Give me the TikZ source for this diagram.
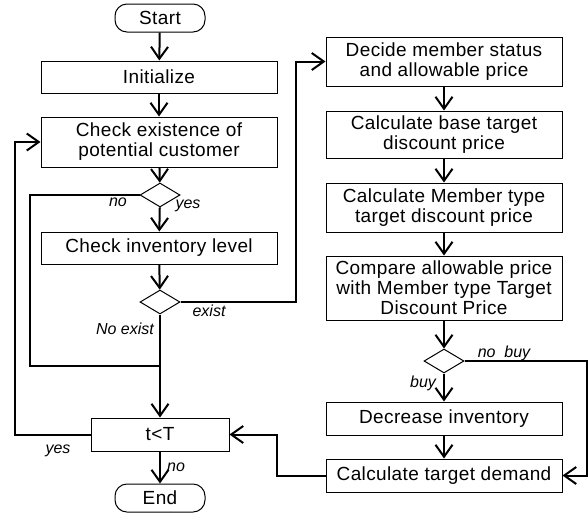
\documentclass[tikz,border=0pt]{standalone}
\usepackage{fontspec}
\setmainfont{Liberation Sans}
\newfontfamily\boxfont[LetterSpace=2]{Liberation Sans}
\usetikzlibrary{shapes.geometric,arrows.meta}
\begin{document}
\begin{tikzpicture}[x=1pt,y=-1pt,
  box/.style={draw,line width=1pt,minimum width=236pt,inner sep=0pt,align=center,
    font=\boxfont\fontsize{19}{20}\selectfont},
  term/.style={draw,line width=1pt,rounded corners=12pt,minimum width=90pt,minimum height=28pt,inner sep=0pt,
    font=\boxfont\fontsize{19}{20}\selectfont},
  dia/.style={draw,line width=1pt,diamond,inner sep=0pt,minimum width=40pt,minimum height=24pt},
  conn/.style={line width=2pt},
  arr/.style={line width=2pt,-{Straight Barb[length=12pt,width=17pt]}},
  lbl/.style={inner sep=0pt,font=\fontsize{16}{18}\selectfont\itshape}]
\useasboundingbox (0,0) rectangle (588,515);
% left column
\node[term] (start) at (160,18) {Start};
\node[box,minimum height=32pt] (init) at (159,77) {Initialize};
\node[box,minimum height=50pt] (check) at (159,142) {Check existence of\\potential customer};
\node[dia] (d1) at (160,195) {};
\node[box,minimum height=32pt] (inv) at (159,248) {Check inventory level};
\node[dia] (d2) at (160,302) {};
\node[box,minimum width=138pt,minimum height=33pt] (tt) at (160,434.5) {t<T};
\node[term] (end) at (160,498) {End};
\coordinate (j) at (160,366);
% right column
\node[box,minimum height=49pt] (decide) at (444,61.5) {Decide member status\\and allowable price};
\node[box,minimum height=47pt] (base) at (444,134.5) {Calculate base target\\discount price};
\node[box,minimum height=49pt] (mtype) at (444,207.5) {Calculate Member type\\target discount price};
\node[box,minimum height=64pt] (comp) at (444,288) {Compare allowable price\\with Member type Target\\Discount Price};
\node[dia] (d3) at (444,361) {};
\node[box,minimum height=33pt] (dec) at (444,418.5) {Decrease inventory};
\node[box,minimum height=33pt] (dem) at (444,475.5) {Calculate target demand};
% connectors
\draw[arr] (start) -- (init);
\draw[arr] (init) -- (check);
\draw[arr] (check) -- (d1);
\draw[arr] (d1) -- (inv);
\draw[arr] (inv) -- (d2);
\draw[conn] (d1.west) -| (30,366) -- (j);
\draw[arr] (d2.south) -- (tt.north);
\draw[arr] (d2.east) -- ++(115,0) |- (decide.west);
\draw[arr] (tt.west) -- ++(-76,0) |- (check.west);
\draw[arr] (tt.south) -- (end.north);
\draw[arr] (decide) -- (base);
\draw[arr] (base) -- (mtype);
\draw[arr] (mtype) -- (comp);
\draw[arr] (comp) -- (d3);
\draw[arr] (d3) -- (dec);
\draw[arr] (dec) -- (dem);
\draw[arr] (d3.east) -- (587,361) |- (dem.east);
\draw[arr] (dem.west) -- (277,475.5) |- (tt.east);
% labels
\node[lbl] (lno1) at (118,202) {no};
\node[lbl] (lyes1) at (188,206) {yes};
\node[lbl] (lexist) at (209,311) {exist};
\node[lbl] (lnoex) at (125,329) {No exist};
\node[lbl] (lyes2) at (58,451) {yes};
\node[lbl] (lno2) at (176,467) {no};
\node[lbl] (lnobuy) at (504,353) {no\ \ buy};
\node[lbl] (lbuy) at (423,383) {buy};
\end{tikzpicture}
\end{document}
